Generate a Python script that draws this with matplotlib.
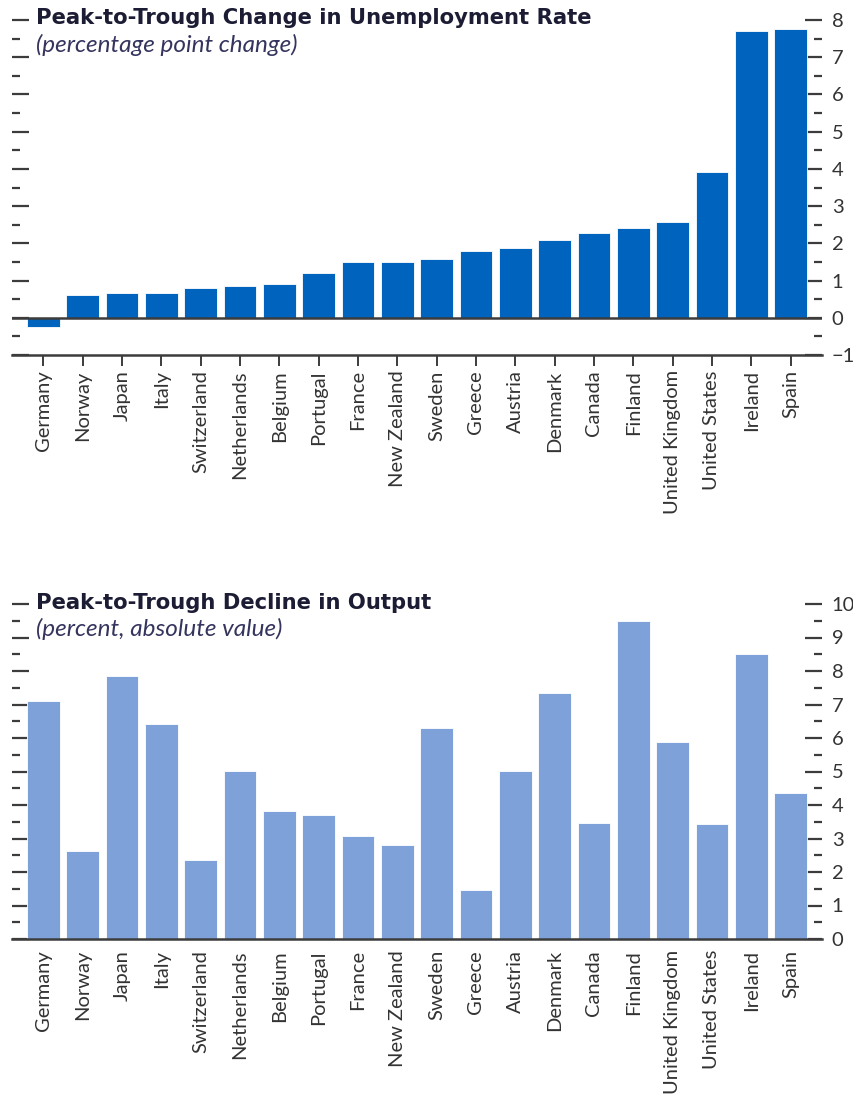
import matplotlib.pyplot as plt
import numpy as np
from matplotlib.ticker import MultipleLocator

plt.rcParams["font.family"] = ["Lato", "DejaVu Sans"]

# ── data ───────────────────────────────────────────────────────────────────────
countries = ["Germany", "Norway", "Japan", "Italy", "Switzerland",
             "Netherlands", "Belgium", "Portugal", "France", "New Zealand",
             "Sweden", "Greece", "Austria", "Denmark", "Canada", "Finland",
             "United Kingdom", "United States", "Ireland", "Spain"]
unemp_change = [-0.25, 0.6, 0.67, 0.67, 0.8, 0.85, 0.9, 1.2, 1.5, 1.5,
                1.58, 1.8, 1.87, 2.1, 2.27, 2.4, 2.56, 3.91, 7.7, 7.75]
output_decline = [7.1, 2.63, 7.85, 6.42, 2.36, 5.01, 3.82, 3.7, 3.07, 2.8,
                  6.3, 1.46, 5.01, 7.34, 3.46, 9.49, 5.88, 3.44, 8.5, 4.36]

TOP_COLOR = "#0064bf"
BOT_COLOR = "#7ea1da"
AXIS_COLOR = "#3c3c3c"
TEXT_COLOR = "#333333"
TITLE_COLOR = "#1c1c34"
SUB_COLOR = "#34345e"

W, H = 854, 1105
fig = plt.figure(figsize=(W / 100, H / 100), dpi=100)


def fig_box(x0, y0, x1, y1):
    # pixel box (top-left origin) -> figure fraction rect
    return [x0 / W, 1 - y1 / H, (x1 - x0) / W, (y1 - y0) / H]


def style_axis(ax, names, values, color, ylim, xticks_out):
    x = np.arange(len(names))
    ax.bar(x, values, 0.83, color=color, edgecolor="white", linewidth=0.6,
           zorder=2)
    ax.set_xlim(-0.8, len(names) - 0.2)
    ax.set_ylim(*ylim)
    ax.set_xticks(x)
    ax.set_xticklabels(names, rotation=90, fontsize=14.5, color=TEXT_COLOR,
                       va="top")
    ax.yaxis.set_major_locator(MultipleLocator(1))
    ax.yaxis.set_minor_locator(MultipleLocator(0.5))
    ax.tick_params(axis="y", which="both", direction="in", left=True,
                   right=True, labelleft=False, labelright=True,
                   color=AXIS_COLOR, labelsize=14.5, labelcolor=TEXT_COLOR)
    ax.tick_params(axis="y", which="major", length=12, width=1.6, pad=7)
    ax.tick_params(axis="y", which="minor", length=6, width=1.6)
    if xticks_out:
        ax.tick_params(axis="x", direction="out", length=8, width=1.4,
                       color=AXIS_COLOR, pad=3)
    else:
        ax.tick_params(axis="x", length=0, pad=8)
    for s in ["top", "left", "right"]:
        ax.spines[s].set_visible(False)
    ax.spines["bottom"].set_color(AXIS_COLOR)
    ax.spines["bottom"].set_linewidth(1.8)


def add_titles(y_title, y_sub, title, subtitle):
    fig.text(36 / W, 1 - y_title / H, title, fontsize=15.2, fontweight="bold",
             family="DejaVu Sans", color=TITLE_COLOR, va="center")
    fig.text(36 / W, 1 - y_sub / H, subtitle, fontsize=17.5,
             fontstyle="italic", color=SUB_COLOR, va="center")


# ── top: unemployment ─────────────────────────────────────────────────────────
ax1 = fig.add_axes(fig_box(12, 20, 822, 355))
style_axis(ax1, countries, unemp_change, TOP_COLOR, (-1, 8), True)
ax1.axhline(0, color=AXIS_COLOR, lw=1.8, zorder=3)
add_titles(18, 45, "Peak-to-Trough Change in Unemployment Rate",
           "(percentage point change)")

# ── bottom: output ────────────────────────────────────────────────────────────
ax2 = fig.add_axes(fig_box(12, 604, 822, 939))
style_axis(ax2, countries, output_decline, BOT_COLOR, (0, 10), False)
add_titles(603, 629, "Peak-to-Trough Decline in Output",
           "(percent, absolute value)")

fig.savefig("out.png", dpi=100)
